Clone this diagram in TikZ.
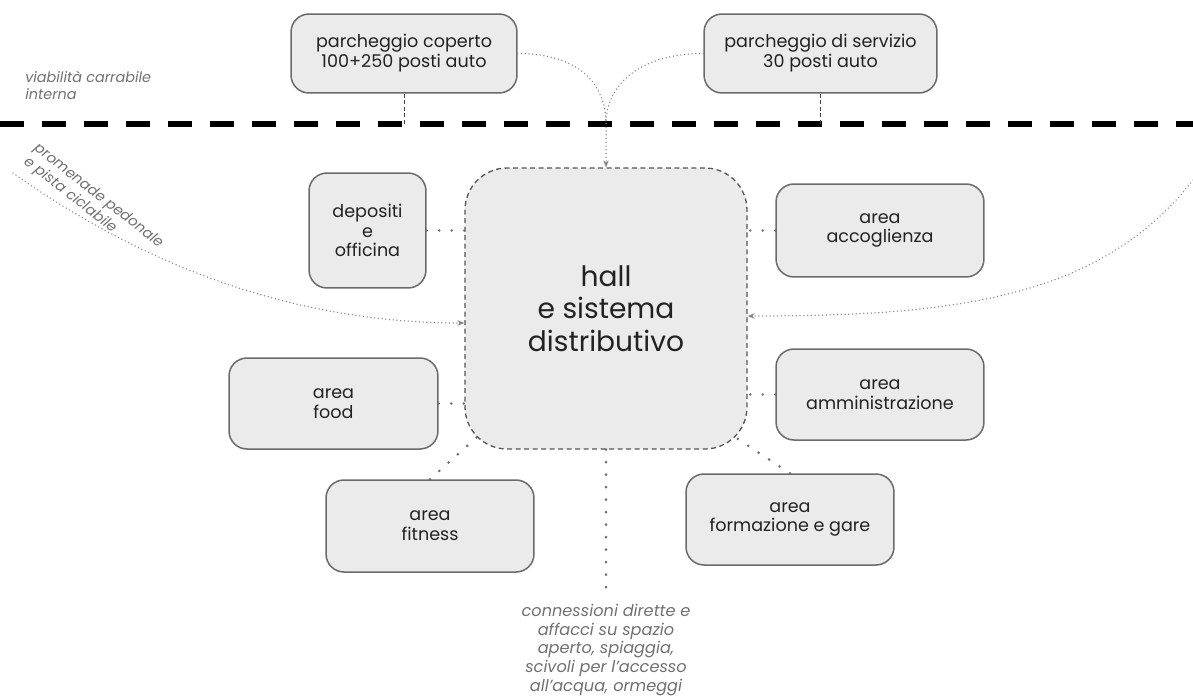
\documentclass[tikz,border=0pt]{standalone}
\usepackage{fontspec}
\setmainfont{Poppins}
\usetikzlibrary{arrows.meta,calc,positioning}
\definecolor{boxfill}{HTML}{EBEBEB}
\definecolor{boxline}{HTML}{6A6A6A}
\definecolor{hallline}{HTML}{555555}
\definecolor{dotgray}{HTML}{6E6E6E}
\definecolor{notegray}{HTML}{707070}
\definecolor{inkgray}{HTML}{222222}

\begin{document}
\begin{tikzpicture}[x=0.02cm,y=-0.02cm,
  areabox/.style={draw=boxline,fill=boxfill,line width=0.03cm,rounded corners=0.36cm,
    align=center,text=inkgray,font=\fontsize{10}{11.3}\selectfont,inner sep=0pt},
  areasize/.style={minimum width=4.16cm,minimum height=1.84cm},
  hallbox/.style={draw=hallline,fill=boxfill,line width=0.026cm,dash pattern=on 0.1cm off 0.07cm,
    rounded corners=0.84cm,align=center,text=inkgray,font=\fontsize{16}{18.5}\selectfont,
    minimum width=5.64cm,minimum height=5.62cm,inner sep=0pt},
  link/.style={draw=dotgray,line width=0.058cm,line cap=round,dash pattern=on 0pt off 0.25cm},
  flow/.style={draw=dotgray!85,line width=0.03cm,line cap=round,dash pattern=on 0pt off 0.075cm},
  drive/.style={draw=black!75,line width=0.02cm,dash pattern=on 0.08cm off 0.05cm},
  road/.style={line width=0.12cm,dash pattern=on 0.48cm off 0.36cm},
  note/.style={text=notegray,font=\fontsize{8.2}{9.6}\selectfont\itshape,inner sep=0pt},
  tip/.style={-{Stealth[length=0.14cm,width=0.11cm]}}]
  \useasboundingbox (0,0) rectangle (1193,697);

  % Drawing road
  \coordinate (roadL) at (0,123.5);
  \coordinate (roadR) at (1193,123.5);
  \draw [road] (roadL) -- (roadR);
  \node [note,align=left,anchor=north west] (viab) at (25,71) {viabilità carrabile\\interna};

  % Drawing parking boxes
  \node [areabox,minimum width=4.52cm,minimum height=1.58cm] (coperto) at (404,53.5)
    {parcheggio coperto\\100+250 posti auto};
  \node [areabox,minimum width=4.66cm,minimum height=1.58cm] (servizio) at (820.5,53.5)
    {parcheggio di servizio\\30 posti auto};
  \draw [drive] (coperto.south) -- (coperto.south |- roadL);
  \draw [drive] (servizio.south) -- (servizio.south |- roadL);

  % Drawing hall
  \node [hallbox] (hall) at (606,308.5) {hall\\e sistema\\distributivo};
  \coordinate (merge) at (hall.north |- roadL);
  \coordinate (hallSW) at ($(hall.south west)+(12.3,-12.3)$);
  \coordinate (hallSE) at ($(hall.south east)+(-12.3,-12.3)$);

  % Drawing area boxes
  \node [areabox,minimum width=2.34cm,minimum height=2.3cm] (depositi) at (367.5,230.5)
    {depositi\\e\\officina};
  \node [areabox,areasize,minimum height=1.86cm] (accoglienza) at (880,230.5) {area\\accoglienza};
  \node [areabox,areasize,minimum width=4.18cm,minimum height=1.82cm] (food) at (333.5,403.5) {area\\food};
  \node [areabox,areasize,minimum height=1.82cm] (amministrazione) at (880,394.5) {area\\amministrazione};
  \node [areabox,areasize] (fitness) at (430,526) {area\\fitness};
  \node [areabox,areasize,minimum height=1.82cm] (formazione) at (790,519.5) {area\\formazione e gare};

  % Drawing links to hall
  \draw [link] (depositi.east) -- (depositi.east -| hall.west);
  \draw [link] (accoglienza.west) -- (accoglienza.west -| hall.east);
  \draw [link] (food.east) -- (food.east -| hall.west);
  \draw [link] (amministrazione.west) -- (amministrazione.west -| hall.east);
  \draw [link] (fitness.north) -- (hallSW);
  \draw [link] (formazione.north) -- (hallSE);

  % Drawing access from parking
  \draw [flow] (coperto.east) .. controls (580,53.5) and (606,85) .. (merge);
  \draw [flow] (servizio.west) .. controls (640,53.5) and (606,85) .. (merge);
  \draw [flow,tip] (merge) -- (hall.north);

  % Drawing promenade
  \coordinate (promL) at (13,173);
  \coordinate (promR) at (1193,180);
  \draw [flow,tip] (promL) .. controls (150,270) and (300,323) .. ($(hall.west)+(0,14.5)$);
  \draw [flow,tip] (promR) .. controls (1100,300) and (950,316) .. ($(hall.east)+(0,7.5)$);
  \node [note,rotate=-38,align=left,anchor=north west] (prom) at (40,141)
    {promenade pedonale\\e pista ciclabile};

  % Drawing connection to the shore
  \node [note,font=\fontsize{9.2}{10.6}\selectfont\itshape,align=center,anchor=north] (shore) at (606,604)
    {connessioni dirette e\\affacci su spazio\\aperto, spiaggia,\\scivoli per l’accesso\\all’acqua, ormeggi};
  \draw [link] (hall.south) -- ($(shore.north)+(0,-9)$);
\end{tikzpicture}
\end{document}
